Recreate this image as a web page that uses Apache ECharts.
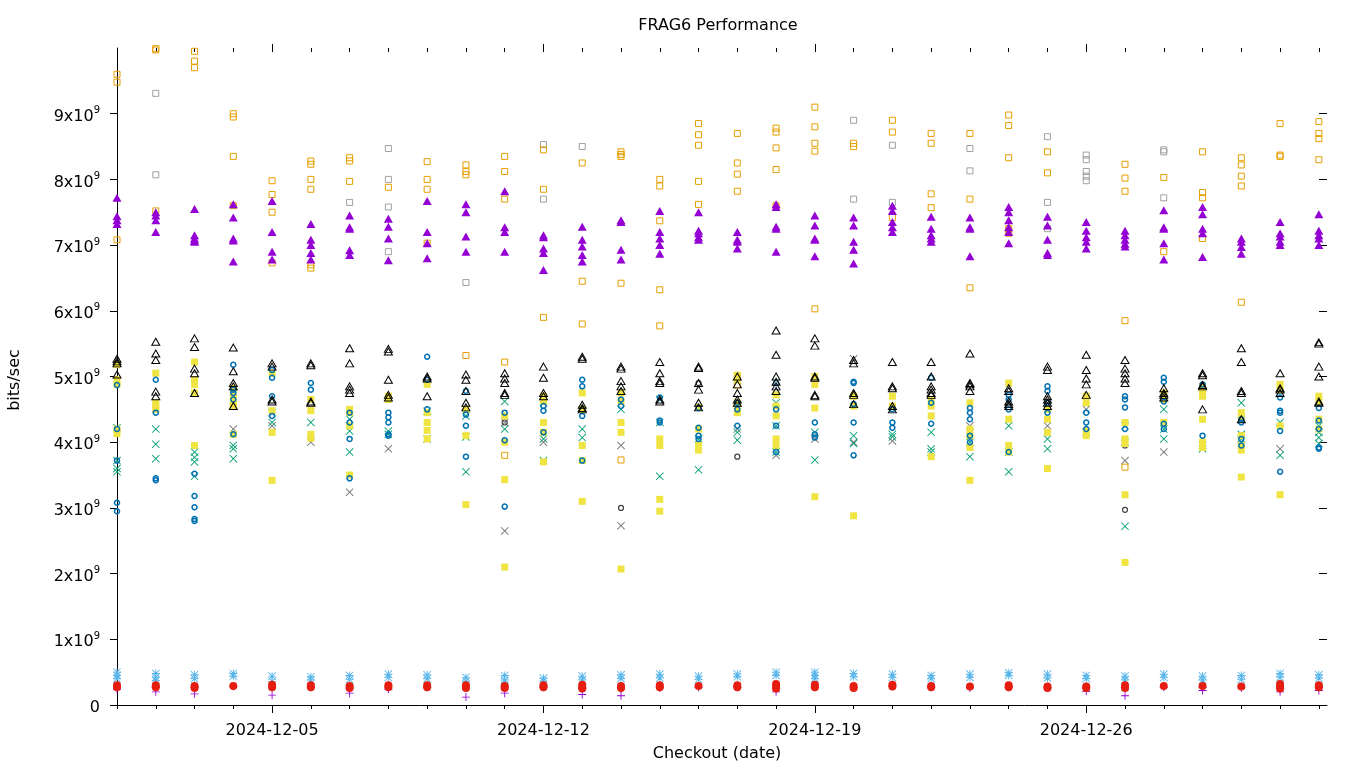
<!DOCTYPE html>
<html>
<head>
<meta charset="utf-8">
<script src="https://cdn.jsdelivr.net/npm/echarts@6/dist/echarts.min.js"></script>
<style>
html,body{margin:0;padding:0;background:#fff;}
#chart{width:1360px;height:768px;}
</style>
</head>
<body>
<div id="chart"></div>
<script>
// ---------- DATA (values in units of 1e9 bits/sec) ----------
const UNIT = 1e9;
const DATES = ['2024-12-01','2024-12-02','2024-12-03','2024-12-04','2024-12-05','2024-12-06','2024-12-07','2024-12-08',
  '2024-12-09','2024-12-10','2024-12-11','2024-12-12','2024-12-13','2024-12-14','2024-12-15','2024-12-16',
  '2024-12-17','2024-12-18','2024-12-19','2024-12-20','2024-12-21','2024-12-22','2024-12-23','2024-12-24',
  '2024-12-25','2024-12-26','2024-12-27','2024-12-28','2024-12-29','2024-12-30','2024-12-31','2025-01-01'];
const X_LABEL_DATES = ['2024-12-05','2024-12-12','2024-12-19','2024-12-26'];
const Y_TICKS = [0,1,2,3,4,5,6,7,8,9];

const purplePlus = [[0.27,0.24],[0.27,0.2],[0.27,0.17],[0.28],[0.27,0.15],[0.27],[0.25,0.18],[0.24],
  [0.27],[0.27,0.12],[0.26,0.18],[0.27],[0.25,0.16],[0.25,0.14],[0.26],[0.27],
  [0.27],[0.26,0.2],[0.27],[0.26],[0.28],[0.27],[0.26],[0.27],
  [0.26],[0.26,0.21],[0.27,0.14],[0.27],[0.27,0.22],[0.26],[0.25,0.2],[0.27,0.22]];
const greenX = [[4.22,3.72,3.6,3.55],[4.2,3.97,3.75],[3.85,3.77,3.7,3.48],[3.95,3.9,3.75],[4.45,4.3],[4.3],[4.35,4.17,3.85],[4.17,4.12],
  [4.47,4.05],[4.4,4.08,3.55],[4.62,4.2],[4.6,4.05,3.72],[4.2,4.07],[4.5],[4.65,4.3,3.48],[4.05,3.58],
  [4.15,4.03],[4.6,4.25,3.85],[4.15,3.73],[4.1,3.98],[4.12,4.08],[4.15,3.9,3.85],[4.0,3.78],[4.25,3.85,3.55],
  [4.05,3.9],[4.15],[4.25,4.0,2.72],[4.5,4.2,4.05],[3.95,3.9],[4.6,4.12,4.05],[4.3,3.8],[4.25,4.15,4.07,3.98]];
const lightBlueStar = [[0.5,0.45,0.4],[0.48,0.42,0.37],[0.46,0.4],[0.48,0.44],[0.44,0.36],[0.43,0.38],[0.45,0.39],[0.47,0.42],
  [0.46,0.4],[0.42,0.36],[0.45,0.38,0.3],[0.41,0.36],[0.44,0.38],[0.46,0.4],[0.47,0.41],[0.44,0.39],
  [0.47,0.43],[0.5,0.45],[0.5,0.45,0.4],[0.48,0.43],[0.47,0.42],[0.45,0.4],[0.47,0.42],[0.49,0.45],
  [0.47,0.41],[0.45,0.4],[0.44,0.38,0.27],[0.47,0.42],[0.44,0.38],[0.45,0.39],[0.48,0.42],[0.46,0.41]];
const orangeSq = [[9.6,9.48,7.08],[9.99,9.97,7.52],[9.95,9.8,9.7],[9.0,8.95,8.35,7.6],[7.98,7.77,7.5,6.73],[8.28,8.23,8.0,7.85,6.7,6.65],[8.33,8.28,7.97],[7.88],
  [8.27,8.0,7.85,7.03],[8.22,8.12,8.07,5.32],[8.35,8.12,7.7,5.22,3.8],[8.45,7.85,5.9],[8.25,6.45,5.8],[8.42,8.38,8.35,6.42,3.73],[8.0,7.9,7.37,6.32,5.77],[8.85,8.68,8.52,7.97,7.62],
  [8.7,8.25,8.08,7.82,5.0,4.87],[8.78,8.72,8.48,8.15,7.6],[9.1,8.8,8.55,8.43,6.03],[8.55,8.5],[8.9,8.72,7.42],[8.7,8.55,7.78,7.57],[8.7,7.7,6.35],[8.98,8.82,8.33,7.25,7.18],
  [8.42,8.1],[],[8.23,8.02,7.82,5.85,3.62],[8.03,6.9],[8.42,7.8,7.72,7.1],[8.33,8.22,8.05,7.9,6.13],[8.85,8.37,8.35],[8.88,8.7,8.62,8.3]];
const yellowSq = [[5.18,4.95,4.88,4.2,4.13],[5.05,4.6,4.55,4.5],[5.22,4.95,4.88,4.75,3.95],[4.82,4.7,4.6,4.55,4.12],[5.05,4.48,4.15,3.42],[4.65,4.48,4.12,4.06],[4.5,4.45,4.25,3.5],[4.7,4.65],
  [4.88,4.45,4.3,4.18,4.05],[4.5,4.1,3.05],[4.4,4.0,3.43,2.1],[4.7,4.62,4.3,4.15,3.7],[4.75,4.5,3.95,3.72,3.1],[4.75,4.62,4.3,4.15,2.07],[4.05,3.95,3.13,2.95],[4.53,4.2,3.95,3.88],
  [5.02,4.95,4.6,4.5,4.45],[4.72,4.55,4.4,4.05,3.95],[5.0,4.88,4.52,3.17],[4.7,4.55,2.88],[4.7,4.55],[4.65,4.55,4.4,3.78],[4.6,4.2,4.1,3.92,3.42],[4.9,4.35,3.95,3.85],
  [4.5,4.35,4.15,3.6],[4.7,4.6,4.17,4.1],[4.3,4.05,3.98,3.2,2.17],[4.75,4.65,4.3],[4.85,4.75,4.7,4.35,4.0,3.92],[4.45,4.35,4.1,3.95,3.88,3.47],[4.88,4.8,4.25,3.2],[4.7,4.62,4.35,4.2]];
const blueCirc = [[4.87,4.2,3.72,3.08,2.95],[4.95,4.45,3.45,3.42],[3.52,3.18,3.01,2.83,2.8],[5.18,4.8,4.75,4.65,4.12],[5.1,4.98,4.7,4.4],[4.9,4.8],[4.45,4.3,4.05,3.45],[4.45,4.38,4.3,4.12,4.1],
  [5.3,4.95,4.5],[4.78,4.42,4.25,3.78],[4.45,4.03,3.02],[4.55,4.48,4.15],[4.95,4.85,4.4,3.72],[4.65,4.55],[4.68,4.33,4.3],[4.52,4.22,4.1,4.05],
  [4.6,4.5,4.25],[4.9,4.5,4.25,3.85],[4.3,4.12,4.07],[4.92,4.9,4.58,4.3,3.8],[4.5,4.3,4.22],[4.98,4.6,4.28],[4.52,4.45,4.35,4.1,4.0],[4.72,4.65,4.5,3.85],
  [4.85,4.78,4.6,4.45],[4.45,4.3,4.2],[4.7,4.65,4.53,4.2],[4.98,4.92,4.62,4.28,4.2],[4.88,4.1],[4.35,4.3,4.05,3.95],[4.68,4.48,4.45,4.17,3.55],[4.52,4.33,4.2,3.92,3.9]];
const redCirc = [[0.3,0.27],[0.3,0.27],[0.29,0.26],[0.29],[0.31,0.27],[0.3,0.27],[0.29,0.26],[0.3,0.27],
  [0.3,0.27],[0.3,0.26],[0.29,0.26],[0.3,0.27],[0.31,0.27,0.25],[0.29,0.26],[0.3,0.27],[0.29],
  [0.3,0.27],[0.32,0.28,0.25],[0.31,0.27],[0.29,0.26],[0.31,0.28],[0.29,0.27],[0.28],[0.3,0.27],
  [0.28,0.26],[0.28,0.26],[0.3,0.26],[0.29],[0.29],[0.28],[0.32,0.28,0.25],[0.3,0.27]];
const blackTri = [[5.27,5.23,5.2,5.03],[5.53,5.35,5.25,4.77,4.7],[5.58,5.45,5.12,5.05,4.75],[5.44,5.08,4.9,4.85,4.55],[5.2,5.15,4.65,4.62],[5.2,5.17,4.62,4.6],[5.43,5.2,4.85,4.8,4.75],[5.42,5.38,4.95,4.72,4.68],
  [5.0,4.97,4.7],[5.03,4.95,4.78,4.6,4.53],[5.05,4.97,4.9,4.75,4.72],[5.15,4.98,4.75,4.7],[5.3,5.27,4.57,4.52,4.5],[5.15,5.12,4.93,4.85,4.78],[5.22,5.05,4.93,4.9,4.65,4.62],[5.15,5.13,4.9,4.8,4.6,4.53],
  [5.0,4.88,4.75,4.65,4.6],[5.7,5.33,5.0,4.92,4.85,4.78],[5.58,5.47,5.0,4.98,4.72,4.7],[5.25,5.2,4.75,4.72,4.58],[5.22,4.85,4.82,4.55,4.5],[5.22,5.0,4.85,4.8,4.75,4.72],[5.35,4.9,4.88,4.85,4.78],[4.82,4.78,4.62,4.58,4.55],
  [5.15,5.1,4.7,4.65,4.6,4.55],[5.33,5.1,4.97,4.88,4.72],[5.25,5.12,5.05,4.97,4.9],[4.82,4.75,4.72,4.68],[5.05,5.02,4.87,4.85,4.5],[5.43,5.22,4.78,4.75,4.35],[5.05,4.82,4.8,4.75],[5.52,5.5,5.15,5.0,4.62,4.6]];
const purpleTri = [[7.72,7.44,7.38,7.32],[7.5,7.45,7.38,7.2],[7.55,7.15,7.1,7.07,7.05],[7.62,7.42,7.1,7.07,6.75],[7.67,7.2,6.9,6.78],[7.32,7.08,7.0,6.88,6.78],[7.45,7.27,7.25,6.92,6.85],[7.4,7.28,7.1,6.77],
  [7.67,7.2,7.03,6.8],[7.62,7.5,7.13,6.9],[7.82,7.27,7.2,6.9],[7.15,7.12,6.95,6.88,6.62],[7.28,7.08,6.98,6.85,6.75],[7.38,7.35,6.93,6.78],[7.52,7.2,7.1,7.0,6.87],[7.5,7.22,7.18,7.12,7.08],
  [7.2,7.08,7.05,6.95],[7.62,7.58,7.28,7.25,6.9],[7.45,7.3,7.1,7.08,6.83],[7.42,7.3,7.05,6.93,6.72],[7.6,7.52,7.35,7.27,7.2],[7.43,7.25,7.15,7.1,7.05],[7.42,7.27,7.25,6.83],[7.58,7.5,7.38,7.27,7.2,7.03],
  [7.43,7.3,7.08,6.88,6.85],[7.35,7.22,7.12,7.05,6.95],[7.22,7.15,7.08,7.02,6.98],[7.53,7.27,7.25,7.03,6.78],[7.58,7.47,7.25,7.18,6.82],[7.1,7.05,6.97,6.87],[7.35,7.18,7.13,7.05,7.0],[7.47,7.22,7.15,7.1,7.0]];
const graySq = [[],[9.31,8.07],[],[],[],[],[7.65],[8.47,8.0,7.58,6.9],
  [],[6.43],[],[8.53,7.7],[8.5],[],[],[],
  [],[],[],[8.9,7.7],[8.52,7.65],[],[8.47,8.13],[],
  [8.65,7.65,7.25],[8.37,8.3,8.12,8.05,7.98],[],[8.45,8.42,7.72],[],[],[],[]];
const grayX = [[],[],[],[4.2],[4.25],[4.0],[3.24],[3.9],
  [],[],[4.3,2.65],[4.0],[],[3.95,2.73],[],[],
  [4.2],[3.8],[4.05],[5.27,4.0],[4.02],[],[4.25],[],
  [4.25],[4.5],[3.72],[3.85],[],[],[3.9],[]];
const darkCirc = [[],[],[],[],[],[],[],[],
  [],[],[4.3],[],[],[3.0],[],[4.9],
  [3.78],[],[],[],[],[],[],[],
  [],[],[3.95,2.97],[],[],[4.1],[],[]];

// ---------- helpers ----------
const DAY = 86400000;
const FONT = 'DejaVu Sans';
const toMs = s => Date.parse(s + 'T00:00:00Z');
const DATE_MS = DATES.map(toMs);
const X_MIN = DATE_MS[0];
const X_MAX = DATE_MS[DATE_MS.length - 1] + 0.21 * DAY;
const pad = n => (n < 10 ? '0' : '') + n;
const fmtDate = v => { const d = new Date(v); return d.getUTCFullYear() + '-' + pad(d.getUTCMonth() + 1) + '-' + pad(d.getUTCDate()); };
function pts(arr) {
  const out = [];
  arr.forEach((vals, i) => vals.forEach(v => out.push([DATE_MS[i], v * UNIT])));
  return out;
}

const PLUS = 'path://M4,0H5V4H9V5H5V9H4V5H0V4H4Z';
const CROSS = 'path://M0,0.7L0.7,0L4.5,3.8L8.3,0L9,0.7L5.2,4.5L9,8.3L8.3,9L4.5,5.2L0.7,9L0,8.3L3.8,4.5Z';
const STAR = 'path://M4,0H5V4H9V5H5V9H4V5H0V4H4Z M0,0.7L0.7,0L4.5,3.8L8.3,0L9,0.7L5.2,4.5L9,8.3L8.3,9L4.5,5.2L0.7,9L0,8.3L3.8,4.5Z';

function filled(name, data, symbol, size, color) {
  return { name, type: 'scatter', data: pts(data), symbol, symbolSize: size,
    itemStyle: { color, opacity: 1 }, silent: true };
}
function open(name, data, symbol, size, color, bw) {
  return { name, type: 'scatter', data: pts(data), symbol, symbolSize: size,
    itemStyle: { color: 'rgba(0,0,0,0)', borderColor: color, borderWidth: bw, opacity: 1 }, silent: true };
}

const series = [
  open('gray squares', graySq, 'rect', 6, '#a0a0a0', 1),
  filled('gray x', grayX, CROSS, 8, '#707070'),
  open('dark circles', darkCirc, 'circle', 5, '#404040', 1.2),
  filled('s1', purplePlus, PLUS, 8, '#9400d3'),
  filled('s2', greenX, CROSS, 8, '#009e73'),
  filled('s3', lightBlueStar, STAR, 8, '#56b4e9'),
  open('s4', orangeSq, 'rect', 6, '#e69f00', 1),
  filled('s5', yellowSq, 'rect', 7, '#f0e442'),
  open('s6', blueCirc, 'circle', 5, '#0072b2', 1.5),
  filled('s7', redCirc, 'circle', 8, '#e51e10'),
  open('s8', blackTri, 'triangle', [8, 7], '#000000', 1),
  filled('s9', purpleTri, 'triangle', [9, 8], '#9400d3')
];

const weekly = X_LABEL_DATES.map(toMs);
const blackLine = { lineStyle: { color: '#000', width: 1 } };

const option = {
  animation: false,
  backgroundColor: '#fff',
  textStyle: { fontFamily: FONT, color: '#000' },
  title: {
    text: 'FRAG6 Performance', left: 718, top: 18, padding: 0, textAlign: 'center',
    textStyle: { fontFamily: FONT, fontSize: 16, fontWeight: 'normal', color: '#000' }
  },
  graphic: [
    { type: 'text', x: 15, y: 380, rotation: Math.PI / 2, silent: true,
      style: { text: 'bits/sec', font: '16px "DejaVu Sans"', fill: '#000', textAlign: 'center', textVerticalAlign: 'middle' } },
    { type: 'text', x: 717, y: 754, silent: true,
      style: { text: 'Checkout (date)', font: '16px "DejaVu Sans"', fill: '#000', textAlign: 'center', textVerticalAlign: 'middle' } }
  ],
  grid: { left: 117, right: 33, top: 48, bottom: 63 },
  xAxis: [
    { type: 'value', min: X_MIN, max: X_MAX, position: 'bottom',
      axisLine: { show: true, ...blackLine },
      axisTick: { show: true, customValues: weekly, length: 8, ...blackLine },
      axisLabel: { show: true, customValues: weekly, formatter: fmtDate, fontSize: 16, color: '#000', margin: 18, fontFamily: FONT },
      splitLine: { show: false } },
    { type: 'value', min: X_MIN, max: X_MAX, position: 'bottom',
      axisLine: { show: false }, axisTick: { show: true, customValues: DATE_MS, length: 4, ...blackLine },
      axisLabel: { show: false }, splitLine: { show: false } },
    { type: 'value', min: X_MIN, max: X_MAX, position: 'top',
      axisLine: { show: false }, axisTick: { show: true, inside: true, customValues: DATE_MS, length: 4, ...blackLine },
      axisLabel: { show: false }, splitLine: { show: false } },
    { type: 'value', min: X_MIN, max: X_MAX, position: 'top',
      axisLine: { show: false }, axisTick: { show: true, inside: false, customValues: weekly, length: 4, ...blackLine },
      axisLabel: { show: false }, splitLine: { show: false } }
  ],
  yAxis: [
    { type: 'value', min: 0, max: 10 * UNIT, position: 'left',
      axisLine: { show: true, ...blackLine },
      axisTick: { show: true, customValues: Y_TICKS.map(v => v * UNIT), length: 7, ...blackLine },
      axisLabel: { show: true, customValues: Y_TICKS.map(v => v * UNIT), color: '#000', margin: 17,
        fontFamily: FONT, fontSize: 16, padding: [6, 0, 0, 0],
        formatter: v => v === 0 ? '{b|0}' : '{b|' + Math.round(v / UNIT) + 'x10}{sup|9}',
        rich: {
          b: { fontSize: 16, lineHeight: 16, color: '#000', fontFamily: FONT, verticalAlign: 'bottom' },
          sup: { fontSize: 10, lineHeight: 10, color: '#000', fontFamily: FONT, verticalAlign: 'bottom', padding: [0, 0, 9, 0] }
        } },
      splitLine: { show: false } },
    { type: 'value', min: 0, max: 10 * UNIT, position: 'right',
      axisLine: { show: false },
      axisTick: { show: true, inside: true, customValues: Y_TICKS.slice(1).map(v => v * UNIT), length: 8, ...blackLine },
      axisLabel: { show: false }, splitLine: { show: false } }
  ],
  series
};

const chart = echarts.init(document.getElementById('chart'), null, { renderer: 'canvas' });
chart.setOption(option);
</script>
</body>
</html>
